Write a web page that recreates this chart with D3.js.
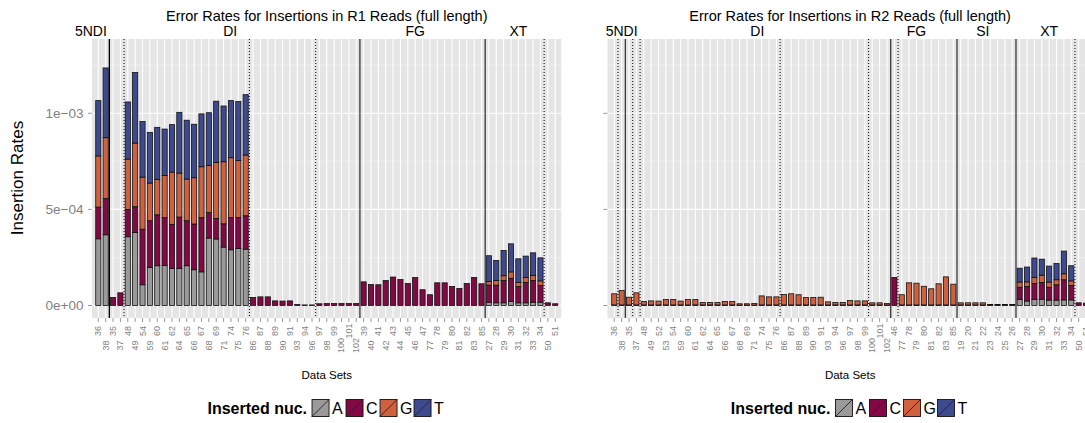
<!DOCTYPE html>
<html>
<head>
<meta charset="utf-8">
<script src="https://cdn.jsdelivr.net/npm/d3@7"></script>
<style>
  html, body { margin: 0; padding: 0; background: #fff; }
  svg { display: block; font-family: "Liberation Sans", Arial, Helvetica, sans-serif; }
</style>
</head>
<body>
<svg id="chart" width="1085" height="423"></svg>
<script>
// ---------- DATA (values in units of 1e-4) ----------
const UNIT = 1e-4;
const nucleotides = ["A", "C", "G", "T"];
const nucColors = ["#9a9a9a", "#840846", "#d0603e", "#3e4a8e"];

// R1 panel
const catsR1 = ["36","38","35","37","48","49","54","59","60","61","62","64","65","66","67","68","69","71","74","75","76",
  "86","87","88","89","90","91","93","94","96","97","98","99","100","101","102",
  "39","40","41","42","43","44","45","46","47","77","78","79","80","81","82","83","85",
  "27","28","29","30","31","32","33","34","50","51"];
const aR1 = [3.47,3.68,0,0,3.58,3.80,1.08,1.98,2.07,2.08,1.93,1.93,2.07,1.86,1.75,3.51,3.46,3.04,2.90,2.97,2.93,
  0,0,0,0,0,0,0,0,0,0,0,0,0,0,0,
  0,0,0,0,0,0,0,0,0,0,0,0,0,0,0,0,0,
  0.17,0.14,0.14,0.21,0.14,0.14,0.17,0.17,0,0];
const cR1 = [1.65,1.88,0.42,0.66,1.42,1.34,2.89,2.43,2.65,2.49,2.29,2.67,2.34,2.38,2.82,1.32,1.07,1.21,1.67,1.61,1.74,
  0.42,0.45,0.45,0.24,0.23,0.24,0.05,0.03,0.03,0.09,0.10,0.10,0.10,0.10,0.10,
  1.23,1.09,1.08,1.30,1.48,1.35,1.15,1.46,0.82,0.56,1.18,1.18,0.99,0.89,1.15,1.46,1.13,
  0.89,0.92,1.16,1.21,0.85,1.06,1.13,0.87,0.14,0.09];
const gR1 = [2.66,3.17,0,0,2.62,3.31,2.71,1.96,1.83,2.19,2.72,2.29,2.17,2.41,2.65,2.46,2.92,3.23,3.12,2.96,3.16,
  0,0,0,0,0,0,0,0,0,0,0,0,0,0,0,
  0,0,0,0,0,0,0,0,0,0,0,0,0,0,0,0,0,
  0.19,0.24,0.25,0.33,0.21,0.26,0.26,0.24,0,0];
const tR1 = [2.88,3.63,0,0,2.97,3.67,2.89,2.64,2.72,2.42,2.47,3.16,3.06,2.78,2.75,2.74,3.18,2.90,2.97,3.07,3.14,
  0,0,0,0,0,0,0,0,0,0,0,0,0,0,0,
  0,0,0,0,0,0,0,0,0,0,0,0,0,0,0,0,0,
  1.34,1.04,1.31,1.46,1.23,1.11,1.18,1.20,0,0];
const groupsR1 = ["5NDI", "DI", "FG", "XT"];
const groupAtR1 = [-1.0, 17.9, 43.0, 57.0];          // label anchor, in category-index units
const solidAfterR1 = ["38", "102", "85"];
const dottedAfterR1 = ["37", "76", "96", "34"];

// R2 panel
const catsR2 = ["36","38","35","37","48","49","52","53","54","59","60","61","62","64","65","66","67","68","69","71","74","75","76",
  "86","87","88","89","90","91","93","94","96","97","98","99","100","101","102",
  "46","77","78","79","80","81","82","83","85",
  "19","20","21","22","23","24","25","26",
  "27","28","29","30","31","32","33","34","50","51"];
const aR2 = [0,0,0,0,0,0,0,0,0,0,0,0,0,0,0,0,0,0,0,0,0,0,0,
  0,0,0,0,0,0,0,0,0,0,0,0,0,0,0,
  0,0,0,0,0,0,0,0,0,
  0,0,0,0,0,0,0,0,
  0.31,0.23,0.31,0.33,0.28,0.28,0.29,0.29,0,0];
const cR2 = [0.03,0.03,0.03,0.03,0.03,0.03,0.03,0.03,0.03,0.03,0.03,0.03,0.03,0.03,0.03,0.03,0.03,0.02,0.02,0.02,0.03,0.03,0.03,
  0.03,0.03,0.03,0.03,0.03,0.03,0.03,0.03,0.03,0.03,0.03,0.03,0.03,0.03,0.03,
  1.46,0.03,0.03,0.03,0.03,0.03,0.03,0.03,0.03,
  0.03,0.03,0.03,0.03,0.02,0.02,0.02,0.02,
  0.64,0.76,0.84,0.87,0.67,0.80,1.05,0.75,0.14,0.12];
const gR2 = [0.58,0.75,0.40,0.63,0.18,0.21,0.20,0.28,0.28,0.20,0.28,0.28,0.13,0.13,0.13,0.18,0.18,0.07,0.07,0.08,0.47,0.42,0.42,
  0.54,0.58,0.53,0.39,0.39,0.40,0.16,0.13,0.13,0.23,0.21,0.21,0.11,0.11,0.07,
  0,0.53,1.15,1.13,0.97,0.84,1.10,1.46,1.08,
  0.11,0.11,0.11,0.11,0.03,0.03,0.03,0.03,
  0.27,0.24,0.31,0.38,0.27,0.26,0.31,0.24,0,0];
const tR2 = [0,0,0,0,0,0,0,0,0,0,0,0,0,0,0,0,0,0,0,0,0,0,0,
  0,0,0,0,0,0,0,0,0,0,0,0,0,0,0,
  0,0,0,0,0,0,0,0,0,
  0,0,0,0,0,0,0,0,
  0.72,0.77,1.01,0.83,0.83,0.85,1.18,0.79,0,0];
const groupsR2 = ["5NDI", "DI", "FG", "SI", "XT"];
const groupAtR2 = [1.0, 19.4, 41.0, 50.0, 59.0];
const solidAfterR2 = ["38", "102", "85", "26"];
const dottedAfterR2 = ["36", "35", "37", "76", "99", "46", "34"];

const yTicks = [0, 5e-4, 1e-3];
const yTickLabels = ["0e+00", "5e\u221204", "1e\u221203"];
const yMinor = [2.5e-4, 7.5e-4, 1.25e-3];

// ---------- DRAWING ----------
const svg = d3.select("#chart");
const grey50 = "#7f7f7f";
const panelTop = 39, panelBottom = 318;
const y = d3.scaleLinear().domain([0, 1e-3]).range([305.5, 113.3]);

function drawPanel(opt) {
  const x = d3.scalePoint().domain(opt.cats).range([opt.x0, opt.x1]).padding(opt.pad);
  const step = x.step();
  const barW = step * 0.7;
  const g = svg.append("g");

  const clipId = "clip" + opt.id;
  svg.append("clipPath").attr("id", clipId).append("rect")
    .attr("x", opt.x0).attr("y", panelTop).attr("width", opt.x1 - opt.x0).attr("height", panelBottom - panelTop);

  const p = g.append("g").attr("clip-path", `url(#${clipId})`);
  p.append("rect").attr("x", opt.x0).attr("y", panelTop)
    .attr("width", opt.x1 - opt.x0).attr("height", panelBottom - panelTop).attr("fill", "#e5e5e5");

  p.selectAll(".ymin").data(yMinor).join("line")
    .attr("x1", opt.x0).attr("x2", opt.x1).attr("y1", d => y(d)).attr("y2", d => y(d))
    .attr("stroke", "#f2f2f2").attr("stroke-width", 0.6);
  p.selectAll(".ymaj").data(yTicks).join("line")
    .attr("x1", opt.x0).attr("x2", opt.x1).attr("y1", d => y(d)).attr("y2", d => y(d))
    .attr("stroke", "#ffffff").attr("stroke-width", 1.1);
  p.selectAll(".xmaj").data(opt.cats).join("line")
    .attr("x1", d => x(d)).attr("x2", d => x(d)).attr("y1", panelTop).attr("y2", panelBottom)
    .attr("stroke", "#ffffff").attr("stroke-width", 1.1);

  const rows = opt.cats.map((c, i) => ({ cat: c, A: opt.a[i] * UNIT, C: opt.c[i] * UNIT, G: opt.g[i] * UNIT, T: opt.t[i] * UNIT }));
  const series = d3.stack().keys(nucleotides)(rows);
  series.forEach((s, k) => {
    p.append("g").selectAll("rect").data(s.filter(d => d[1] - d[0] > 0)).join("rect")
      .attr("x", d => x(d.data.cat) - barW / 2)
      .attr("width", barW)
      .attr("y", d => y(d[1]))
      .attr("height", d => y(d[0]) - y(d[1]))
      .attr("fill", nucColors[k])
      .attr("stroke", "#111").attr("stroke-width", 0.8);
  });

  const between = c => x(c) + step / 2;
  p.selectAll(".solid").data(opt.solidAfter).join("line")
    .attr("x1", d => between(d)).attr("x2", d => between(d)).attr("y1", panelTop).attr("y2", panelBottom)
    .attr("stroke", (d, i) => i === 0 && opt.id === "L" ? "#000" : "#3a3a3a").attr("stroke-width", 1.3);
  p.selectAll(".dotted").data(opt.dottedAfter).join("line")
    .attr("x1", d => between(d)).attr("x2", d => between(d)).attr("y1", panelTop).attr("y2", panelBottom)
    .attr("stroke", "#000").attr("stroke-width", 1).attr("stroke-dasharray", "1,2");

  // x ticks and labels
  g.selectAll(".xt").data(opt.cats).join("line")
    .attr("x1", d => x(d)).attr("x2", d => x(d)).attr("y1", panelBottom).attr("y2", panelBottom + 4)
    .attr("stroke", grey50).attr("stroke-width", 0.8);
  g.selectAll(".xl").data(opt.cats).join("text")
    .attr("transform", (d, i) => `translate(${x(d)},${i % 2 === 0 ? 331 : 345.5}) rotate(-90)`)
    .attr("text-anchor", "middle").attr("dominant-baseline", "central")
    .attr("font-size", 9).attr("fill", grey50).text(d => d);

  // y ticks
  g.selectAll(".yt").data(yTicks).join("line")
    .attr("x1", opt.x0 - 4).attr("x2", opt.x0).attr("y1", d => y(d)).attr("y2", d => y(d))
    .attr("stroke", grey50).attr("stroke-width", 0.8);
  if (opt.yLabels) {
    g.selectAll(".yl").data(yTicks).join("text")
      .attr("x", opt.x0 - 8.5).attr("y", d => y(d)).attr("dy", "0.35em")
      .attr("text-anchor", "end").attr("font-size", 13.5).attr("fill", grey50)
      .text((d, i) => yTickLabels[i]);
  }

  const cx = (opt.x0 + opt.x1) / 2;
  const xIdx = i => opt.x0 + step * (opt.pad + i);
  // titles
  g.append("text").attr("x", cx).attr("y", 21).attr("text-anchor", "middle")
    .attr("font-size", 14.5).attr("fill", "#000").text(opt.title);
  g.selectAll(".grp").data(opt.groups).join("text")
    .attr("x", (d, i) => xIdx(opt.groupAt[i])).attr("y", 36)
    .attr("text-anchor", "middle").attr("font-size", 14).attr("fill", "#000").text(d => d);
  g.append("text").attr("x", cx).attr("y", 379).attr("text-anchor", "middle")
    .attr("font-size", 11.5).attr("fill", "#000").text("Data Sets");

  // legend
  const leg = g.append("g");
  const title = leg.append("text").attr("y", 414).attr("font-size", 16).attr("font-weight", "bold")
    .attr("fill", "#000").text("Inserted nuc.");
  const tw = title.node().getComputedTextLength();
  const keyS = 17, itemW = 34;
  const totalW = tw + 5 + nucleotides.length * itemW;
  const lx = cx - totalW / 2 + 1;
  title.attr("x", lx);
  nucleotides.forEach((nuc, k) => {
    const kx = lx + tw + 5 + k * itemW;
    leg.append("rect").attr("x", kx).attr("y", 399.5).attr("width", keyS).attr("height", keyS)
      .attr("fill", nucColors[k]).attr("stroke", "#111").attr("stroke-width", 0.9);
    leg.append("line").attr("x1", kx).attr("y1", 399.5 + keyS).attr("x2", kx + keyS).attr("y2", 399.5)
      .attr("stroke", "#222").attr("stroke-width", 0.9);
    leg.append("text").attr("x", kx + keyS + 3).attr("y", 414).attr("font-size", 16).attr("fill", "#000").text(nuc);
  });
}

drawPanel({ id: "L", cats: catsR1, a: aR1, c: cR1, g: gR1, t: tR1, x0: 92, x1: 561.5, pad: 0.855,
  title: "Error Rates for Insertions in R1 Reads (full length)", groups: groupsR1, groupAt: groupAtR1,
  solidAfter: solidAfterR1, dottedAfter: dottedAfterR1, yLabels: true });
drawPanel({ id: "R", cats: catsR2, a: aR2, c: cR2, g: gR2, t: tR2, x0: 607.3, x1: 1093, pad: 0.95,
  title: "Error Rates for Insertions in R2 Reads (full length)", groups: groupsR2, groupAt: groupAtR2,
  solidAfter: solidAfterR2, dottedAfter: dottedAfterR2, yLabels: false });

// y axis title
svg.append("text").attr("transform", "translate(23,178) rotate(-90)").attr("text-anchor", "middle")
  .attr("font-size", 17).attr("fill", "#000").text("Insertion Rates");
</script>
</body>
</html>
